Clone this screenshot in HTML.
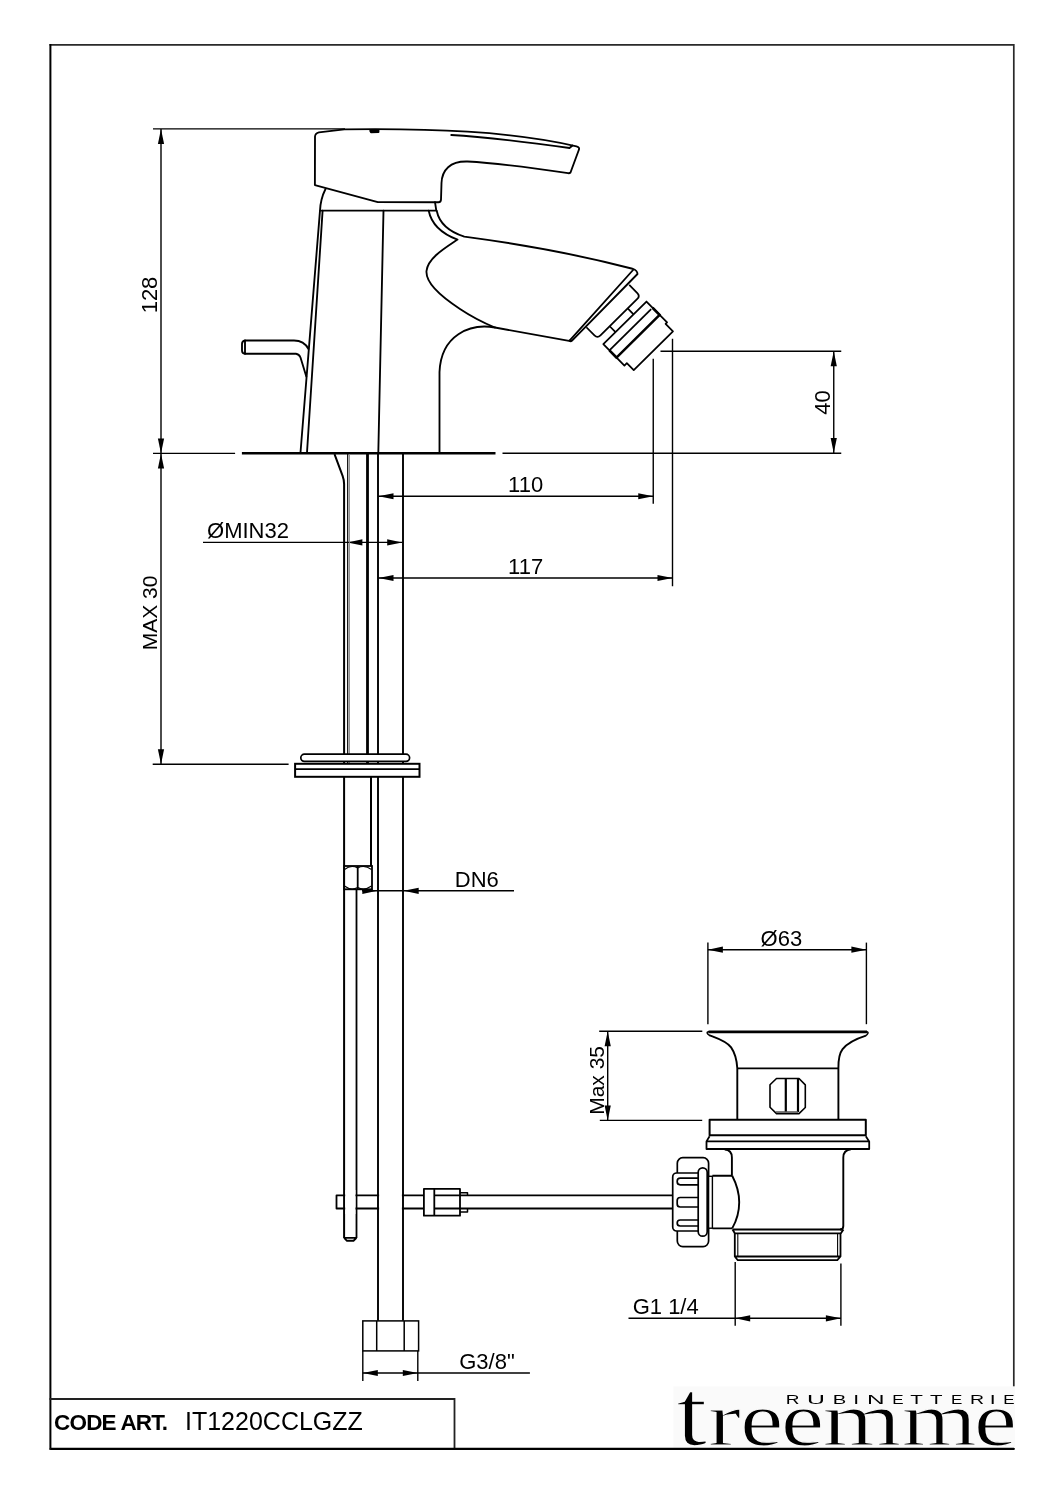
<!DOCTYPE html>
<html><head><meta charset="utf-8">
<style>
html,body{margin:0;padding:0;background:#fff;}
body{width:1060px;height:1500px;overflow:hidden;}
svg{display:block;will-change:transform;}
text{font-family:"Liberation Sans",sans-serif;fill:#000;}
</style></head>
<body>
<svg width="1060" height="1500" viewBox="0 0 1060 1500">
<rect x="0" y="0" width="1060" height="1500" fill="#fff"/>
<g fill="none" stroke="#222" stroke-width="1.8" stroke-linecap="square">
<path d="M50.4,44.9 H1013.8 V1386" stroke="#2a2a2a" stroke-width="1.7"/>
<path d="M50.4,1448.8 V44.9" stroke="#000" stroke-width="2"/>
<path d="M50.4,1448.8 H1014"/>
<path d="M50.4,1399 H454.5 V1448.8"/>
</g>
<text x="54" y="1430" font-size="22.5" font-weight="bold" letter-spacing="-0.8">CODE ART.</text>
<text x="185" y="1430" font-size="25">IT1220CCLGZZ</text>
<g fill="none" stroke="#000" stroke-width="1.4">
<path d="M153,128.9 H345"/>
<path d="M161,128.9 V764.25"/>
<path d="M153,453.4 H235.1"/>
<path d="M152.7,764.25 H288.6"/>
<path d="M660.5,351.25 H841.25"/>
<path d="M833.75,351.25 V453"/>
<path d="M502.5,453.2 H841.25"/>
<path d="M378.5,496.25 H653.25"/>
<path d="M653.25,358.75 V503.75"/>
<path d="M378.5,578 H672.5"/>
<path d="M672.5,338.75 V586.25"/>
<path d="M203,542.4 H402.2"/>
<path d="M362,890.8 H514"/>
<path d="M707.9,949.7 H866.4"/>
<path d="M707.9,942.6 V1024.2"/>
<path d="M866.4,942.6 V1024.2"/>
<path d="M599.2,1031.2 H702.3"/>
<path d="M599.8,1120.4 H702.2"/>
<path d="M607.7,1031.2 V1120.4"/>
<path d="M628.5,1318.3 H840.9"/>
<path d="M735.2,1262 V1325.7"/>
<path d="M840.9,1263.6 V1325.7"/>
<path d="M362.8,1350.9 V1381"/>
<path d="M417.8,1350.9 V1381"/>
<path d="M362.8,1373 H529.9"/>
</g>
<g fill="#000" stroke="none">
<path d="M161.00,128.90 L164.10,143.90 L157.90,143.90 Z"/>
<path d="M161.00,453.40 L157.90,438.40 L164.10,438.40 Z"/>
<path d="M161.00,453.40 L164.10,468.40 L157.90,468.40 Z"/>
<path d="M161.00,764.25 L157.90,749.25 L164.10,749.25 Z"/>
<path d="M833.75,351.25 L836.85,366.25 L830.65,366.25 Z"/>
<path d="M833.75,453.00 L830.65,438.00 L836.85,438.00 Z"/>
<path d="M378.50,496.25 L393.50,493.15 L393.50,499.35 Z"/>
<path d="M653.25,496.25 L638.25,499.35 L638.25,493.15 Z"/>
<path d="M378.50,578.00 L393.50,574.90 L393.50,581.10 Z"/>
<path d="M672.50,578.00 L657.50,581.10 L657.50,574.90 Z"/>
<path d="M347.40,542.40 L362.40,539.30 L362.40,545.50 Z"/>
<path d="M402.20,542.40 L387.20,545.50 L387.20,539.30 Z"/>
<path d="M377.30,890.80 L362.30,893.90 L362.30,887.70 Z"/>
<path d="M403.70,890.80 L418.70,887.70 L418.70,893.90 Z"/>
<path d="M707.90,949.70 L722.90,946.60 L722.90,952.80 Z"/>
<path d="M866.40,949.70 L851.40,952.80 L851.40,946.60 Z"/>
<path d="M607.70,1031.20 L610.80,1046.20 L604.60,1046.20 Z"/>
<path d="M607.70,1120.40 L604.60,1105.40 L610.80,1105.40 Z"/>
<path d="M735.20,1318.30 L750.20,1315.20 L750.20,1321.40 Z"/>
<path d="M840.90,1318.30 L825.90,1321.40 L825.90,1315.20 Z"/>
<path d="M362.80,1373.00 L377.80,1369.90 L377.80,1376.10 Z"/>
<path d="M417.80,1373.00 L402.80,1376.10 L402.80,1369.90 Z"/>
</g>
<g font-size="22">
<text transform="translate(157.3,295) rotate(-90)" text-anchor="middle">128</text>
<text transform="translate(157.3,613) rotate(-90)" text-anchor="middle" font-size="21">MAX 30</text>
<text transform="translate(830,402.5) rotate(-90)" text-anchor="middle">40</text>
<text transform="translate(603.8,1080.4) rotate(-90)" text-anchor="middle" font-size="21">Max 35</text>
<text x="525.6" y="491.75" text-anchor="middle">110</text>
<text x="525.6" y="573.75" text-anchor="middle">117</text>
<text x="248" y="537.5" text-anchor="middle">ØMIN32</text>
<text x="476.8" y="886.8" text-anchor="middle">DN6</text>
<text x="781.4" y="946" text-anchor="middle">Ø63</text>
<text x="665.7" y="1313.8" text-anchor="middle">G1 1/4</text>
<text x="487" y="1368.5" text-anchor="middle">G3/8"</text>
</g>
<g fill="none" stroke="#000" stroke-width="1.85" stroke-linejoin="round" stroke-linecap="round">
<path d="M318.9,132.3 L344.3,129.4 C430,128.3 510,131 576.5,146.3 Q580,147.5 578.8,150 L570.5,172.5 Q569.5,173.5 568,173.2 C540,169 495,163 467.5,161.5 C450,161 442,170 441.5,183 L441,199.5 Q441,202.2 438.5,202.2 L377.8,202.1 L314.9,185.1 L315,136.5 Q315.3,133 318.9,132.3 Z"/>
<path d="M451.25,135 C490,137 530,142.5 569.5,148 L572.5,145.5"/>
<path d="M370.2,130.8 L378.5,129.9 L378.5,132.1 L371,132.3 Z" fill="#000"/>
<path d="M320.3,210.6 H436.3 M435,202.2 L436.3,210.7"/>
<path d="M325.5,189 Q320.5,199 320,210.6 L300.5,452.5"/>
<path d="M322.6,210.6 L307,452.5"/>
<path d="M383.5,210.6 L378.3,453"/>
<path d="M436.7,210.7 C439,222 447,231 464.3,236.6 C520,244 580,255 632.5,268.75 Q637.5,270.5 637.5,274 L571.8,340.8 Q570.5,342 569.5,340.5"/>
<path d="M633.5,269.5 L569.8,340.3"/>
<path d="M428.7,210.7 C431,222 440,233 457.5,239.6 C445,248 428,258 426.5,271 C425.5,283 440,296 460,309 C472,317 484,323 494.9,327.5 L570.4,341.1"/>
<path d="M494.9,327.5 C470,323 441,335 439.5,372 L439.5,453"/>
<path d="M245,340.5 H294 Q304,340.5 308.5,349"/>
<path d="M245,353.75 H296 Q299,354 300.5,357.5 L306.3,376.5"/>
<path d="M245,340.5 Q242,341 242,344 L242,350.5 Q242,353.5 245,353.75 M245,340.5 V353.75"/>
</g>
<g transform="translate(604,309.1) rotate(-44.7)" fill="none" stroke="#000" stroke-width="1.75" stroke-linejoin="round">
<path d="M-25.3,0.5 V12 Q-25.3,16.2 -21,16.2 H30.8 Q35,16.2 35,12 V0.5"/>
<path d="M-8,16.2 V24.5 M17.3,16.2 V24.5"/>
<path d="M-25.2,24.5 H35.5 V53.8 H33.4 V64.3 H-21.8 V54.5 H-25.2 Z" fill="#fff"/>
<path d="M-25.2,33.2 H33.5"/>
<path d="M-25.2,42.6 H35.5 M-25.2,43.8 H35.5" stroke-width="1.3"/>
<path d="M-25.2,33.2 V44.2 M35.5,33.2 V44.2" stroke-width="2.6"/>
</g>
<path d="M241.9,453.2 H495.5" stroke="#000" stroke-width="2.6" fill="none"/>
<g fill="none" stroke="#000" stroke-linecap="butt">
<path d="M334.5,454.2 L342.6,475.8 Q344.1,480 344.1,484 V1238" stroke-width="2"/>
<path d="M347.7,454 V764" stroke-width="1.2"/>
<path d="M349.4,454 V764" stroke-width="1" stroke="#888"/>
<path d="M367.5,454 V764" stroke-width="2.8"/>
<path d="M378,453 V1320.8 M403,453 V1320.8" stroke-width="1.9"/>
<path d="M371,777 V866" stroke-width="2"/>
<path d="M356.5,889.3 V1238" stroke-width="1.8"/>
</g>
<g fill="none" stroke="#000" stroke-width="1.8" stroke-linejoin="round">
<path d="M423.9,1195.3 H336.5 V1208.5 H423.9"/>
<rect x="345.2" y="1190" width="10.2" height="24" fill="#fff" stroke="none"/>
<rect x="379.1" y="1190" width="22.8" height="24" fill="#fff" stroke="none"/>
<path d="M344.1,1237.9 L347,1240.8 H353.5 L356.5,1237.9 M344.1,1237.9 H356.5" stroke-width="1.9"/>

<path d="M423.9,1188.9 H460 V1215.7 H423.9 Z M434.3,1188.9 V1215.7"/>
<path d="M460,1192.8 H467.5 V1195.3 M460,1212 H467.5 V1208.5" stroke-width="1.5"/>
<path d="M434.3,1195.3 H673 M434.3,1208.5 H673" stroke-width="1.8"/>
</g>
<g fill="#fff" stroke="#000" stroke-width="1.8">
<rect x="344.2" y="866" width="27.8" height="23.3"/>
<path d="M357.7,866 V889.3" fill="none"/>
<path d="M344.5,869.5 Q351,864.5 357.7,868 Q364.5,864.5 371.5,869.5 M344.5,886 Q351,891 357.7,887.5 Q364.5,891 371.5,886" fill="none" stroke-width="1.1"/>
</g>
<g fill="#fff" stroke="#000" stroke-width="1.7">
<rect x="300.8" y="754.2" width="108.8" height="7.2" rx="3.6"/>
<rect x="295.1" y="763.8" width="124.4" height="13" stroke-width="2"/>
<path d="M295.1,769.2 H419.5" fill="none" stroke-width="1.8"/>
</g>
<g fill="#fff" stroke="#000" stroke-width="1.5">
<rect x="362.8" y="1320.9" width="55.8" height="30"/>
<path d="M376.7,1320.9 V1350.9 M404.2,1320.9 V1350.9" fill="none"/>
</g>
<g fill="none" stroke="#000" stroke-width="1.9" stroke-linejoin="round">
<path d="M709,1035.1 C715,1037.5 726,1040.5 731.1,1047.4 C735,1053 736.8,1060 737.3,1068.3 L737.3,1119.6"/>
<path d="M866,1035.6 C860,1037.5 849,1041 842.6,1049.1 C839.5,1053 838.3,1060 838.4,1068.3 L838.4,1119.6"/>
<path d="M737.3,1068.4 H838"/>
<path d="M709,1035.1 Q705.5,1032.3 708.5,1031.8 H867 Q869.5,1032.5 866,1035.6" stroke-width="1.5"/>
<path d="M708.5,1031.9 H867" stroke-width="2.8"/>
<path d="M776.5,1078.5 H799 L805.3,1084.9 V1107.5 L799,1113.6 H776.5 L770,1107.3 V1084.8 Z" stroke-width="1.6"/>
<path d="M785.8,1078.5 V1112 M798,1078.5 V1112" stroke-width="2.2"/>
<path d="M776,1112 H798" stroke-width="1.5" stroke="#555"/>
<path d="M709.6,1135.2 V1119.8 H865.8 V1135.2 Z" stroke-width="2"/>
<path d="M709.6,1136.3 L706.5,1141.4 V1149 H869.2 V1141.4 L865.8,1136.3 M706.5,1141.4 H869.2" stroke-width="1.8"/>
<path d="M724.7,1149.5 Q731.9,1150 731.9,1157.5 V1175.8"/>
<path d="M850.9,1149.2 Q843.3,1150 843.3,1157.5 V1226 Q843.3,1229.5 840,1229.5"/>
<path d="M732.2,1175.8 C737,1185 739.2,1195 739.2,1202.3 C739.2,1210 737,1220 732.2,1228.4"/>
<path d="M712.4,1175.8 H732.2 M712.4,1228.4 H732.2"/>
<path d="M732.5,1229.5 H843.5 M732.5,1229.5 L734.8,1233.3 H840.9 L843.5,1229.5" stroke-width="1.8"/>
<path d="M734.8,1233.3 V1256.5 L737.8,1260.2 H837.3 L840.5,1256.5 V1233.3 M734.8,1256.5 H840.5" stroke-width="1.8"/>
<path d="M737.8,1233.3 V1256.5 M837.6,1233.3 V1256.5" stroke-width="1.1"/>
</g>
<g fill="#fff" stroke="#000" stroke-width="1.7">
<rect x="677.3" y="1157.7" width="31.3" height="88.9" rx="5.5"/>
<rect x="672.7" y="1173" width="29.5" height="58" rx="4"/>
<rect x="677.2" y="1178.2" width="24" height="6.6" rx="3"/>
<rect x="677.2" y="1197.5" width="24" height="9.5" rx="3"/>
<rect x="677.2" y="1220" width="24" height="6" rx="3"/>
<rect x="698.2" y="1167.8" width="9" height="68.4" rx="4.5"/>
<rect x="708.6" y="1176.3" width="3.8" height="51.9" stroke-width="1.4"/>
</g>
<rect x="673.4" y="1386.4" width="341.6" height="61.6" fill="#fafafa"/>
<g style="font-family:'Liberation Serif',serif" font-size="75.4" fill="#000" stroke="#fafafa" stroke-width="1.2">
<text transform="translate(676.21,1444.8) scale(1.477,1.27)" style="font-family:'Liberation Serif',serif">t</text>
<text transform="translate(707.92,1444.8) scale(1.312,1.0)" style="font-family:'Liberation Serif',serif">r</text>
<text transform="translate(739.98,1444.8) scale(1.297,1.0)" style="font-family:'Liberation Serif',serif">e</text>
<text transform="translate(780.67,1444.8) scale(1.301,1.0)" style="font-family:'Liberation Serif',serif">e</text>
<text transform="translate(822.58,1444.8) scale(1.342,1.0)" style="font-family:'Liberation Serif',serif">m</text>
<text transform="translate(901.68,1444.8) scale(1.278,1.0)" style="font-family:'Liberation Serif',serif">m</text>
<text transform="translate(973.69,1444.8) scale(1.294,1.0)" style="font-family:'Liberation Serif',serif">e</text>
</g>
<g font-size="13.2" fill="#000">
<text transform="translate(785.84,1403.8) scale(1.442,1)">R</text>
<text transform="translate(806.98,1403.8) scale(1.881,1)">U</text>
<text transform="translate(832.64,1403.8) scale(1.537,1)">B</text>
<text transform="translate(853.35,1403.8) scale(1.600,1)">I</text>
<text transform="translate(866.90,1403.8) scale(1.844,1)">N</text>
<text transform="translate(892.31,1403.8) scale(1.286,1)">E</text>
<text transform="translate(910.34,1403.8) scale(1.568,1)">T</text>
<text transform="translate(930.04,1403.8) scale(1.554,1)">T</text>
<text transform="translate(951.11,1403.8) scale(1.286,1)">E</text>
<text transform="translate(970.00,1403.8) scale(1.480,1)">R</text>
<text transform="translate(989.85,1403.8) scale(1.600,1)">I</text>
<text transform="translate(1003.31,1403.8) scale(1.286,1)">E</text>
</g>
<path d="M50.4,1448.8 H1014" stroke="#000" stroke-width="2.2"/>
</svg>
</body></html>
